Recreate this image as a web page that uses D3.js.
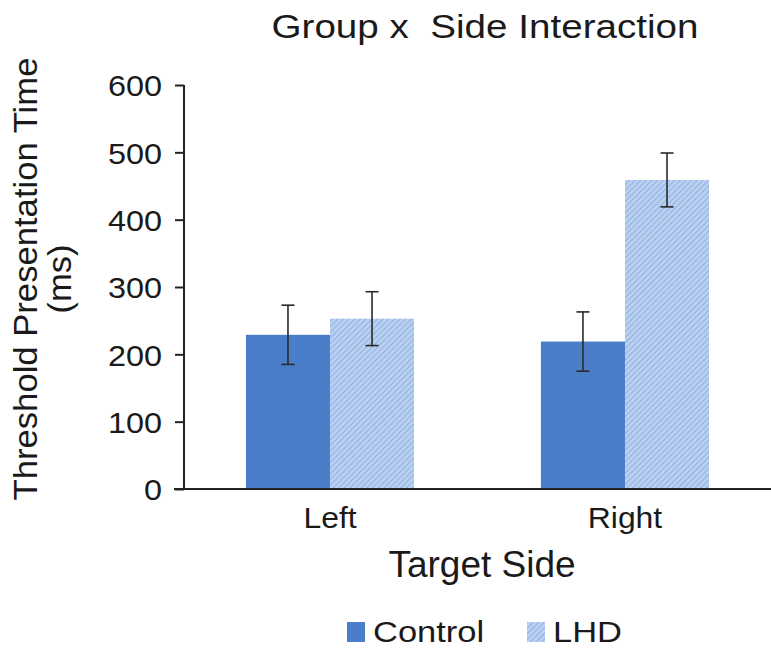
<!DOCTYPE html>
<html>
<head>
<meta charset="utf-8">
<script src="https://cdn.jsdelivr.net/npm/d3@7"></script>
<style>
  html, body { margin: 0; padding: 0; background: #fff; }
  svg { display: block; font-family: Arial, "Liberation Sans", Helvetica, sans-serif; }
  text { fill: #1a1a1a; }
</style>
</head>
<body>
<svg id="chart" width="771" height="650"></svg>
<script>
// Threshold presentation time by target side, per group
const categories = ["Left", "Right"];
const groups = ["Control", "LHD"];
const controlMeans = [229, 219];
const controlErrors = [44, 44];
const lhdMeans = [253, 459];
const lhdErrors = [40, 40];
const yTicks = [0, 100, 200, 300, 400, 500, 600];

const means = { Control: controlMeans, LHD: lhdMeans };
const errors = { Control: controlErrors, LHD: lhdErrors };
const rows = [];
categories.forEach((c, i) => groups.forEach(g => rows.push({ cat: c, group: g, mean: means[g][i], err: errors[g][i] })));

const svg = d3.select("#chart");
const plotLeft = 184, plotRight = 771, plotTop = 85, plotBottom = 489;

const x = d3.scaleBand().domain(categories).range([plotLeft, plotRight]).paddingInner(0.43).paddingOuter(0.21);
const xg = d3.scaleBand().domain(groups).range([0, x.bandwidth()]);
const y = d3.scaleLinear().domain([0, 600]).range([plotBottom, plotTop]);

// hatch pattern for the LHD bars
const defs = svg.append("defs");
const pat = defs.append("pattern").attr("id", "hatch").attr("patternUnits", "userSpaceOnUse")
  .attr("width", 4).attr("height", 4).attr("patternTransform", "rotate(45)");
pat.append("rect").attr("width", 4).attr("height", 4).attr("fill", "#b9d0f1");
pat.append("line").attr("x1", 0).attr("y1", 0).attr("x2", 0).attr("y2", 4)
  .attr("stroke", "#86a9de").attr("stroke-width", 1.6);

const fillFor = g => g === "Control" ? "#4a7ec8" : "url(#hatch)";

// bars
svg.append("g").selectAll("rect").data(rows).join("rect")
  .attr("x", d => x(d.cat) + xg(d.group))
  .attr("width", xg.bandwidth())
  .attr("y", d => y(d.mean))
  .attr("height", d => y(0) - y(d.mean))
  .attr("fill", d => fillFor(d.group));

// error bars
const eb = svg.append("g").attr("stroke", "#2a2a2a").attr("stroke-width", 1.6);
rows.forEach(d => {
  const cx = x(d.cat) + xg(d.group) + xg.bandwidth() / 2;
  eb.append("line").attr("x1", cx).attr("x2", cx).attr("y1", y(d.mean + d.err)).attr("y2", y(d.mean - d.err));
  eb.append("line").attr("x1", cx - 6.5).attr("x2", cx + 6.5).attr("y1", y(d.mean + d.err)).attr("y2", y(d.mean + d.err));
  eb.append("line").attr("x1", cx - 6.5).attr("x2", cx + 6.5).attr("y1", y(d.mean - d.err)).attr("y2", y(d.mean - d.err));
});

// y axis
const yAxis = svg.append("g").attr("transform", `translate(${plotLeft},0)`)
  .call(d3.axisLeft(y).tickValues(yTicks).tickSize(9).tickPadding(12).tickFormat(d3.format("d")));
yAxis.select(".domain").attr("stroke", "#222").attr("stroke-width", 2).attr("d", `M0,${plotTop}V${plotBottom}`);
yAxis.selectAll(".tick line").attr("stroke", "#222").attr("stroke-width", 2);
yAxis.selectAll(".tick text")
  .attr("font-size", 30).attr("fill", "#1a1a1a").attr("dy", "0.36em")
  .attr("transform", "scale(1.08,1)")
  .attr("x", -22 / 1.08);

// x axis baseline
svg.append("line").attr("x1", 174).attr("x2", plotRight).attr("y1", plotBottom).attr("y2", plotBottom)
  .attr("stroke", "#222").attr("stroke-width", 2);

// category labels
svg.append("g").selectAll("text").data(categories).join("text")
  .attr("text-anchor", "middle").attr("font-size", 29)
  .attr("transform", d => `translate(${x(d) + x.bandwidth() / 2},528) scale(1.1,1)`)
  .text(d => d);

// titles
svg.append("text").attr("text-anchor", "middle").attr("font-size", 33)
  .style("white-space", "pre")
  .attr("transform", "translate(485,38) scale(1.17,1)")
  .text("Group x  Side Interaction");

svg.append("text").attr("text-anchor", "middle").attr("font-size", 37)
  .attr("transform", "translate(482,577)")
  .text("Target Side");

const yl = svg.append("text").attr("text-anchor", "middle").attr("font-size", 33)
  .attr("transform", "translate(37,279) rotate(-90) scale(1.05,1)");
yl.append("tspan").attr("x", 0).attr("dy", 0).text("Threshold Presentation Time");
yl.append("tspan").attr("x", 0).attr("dy", 34).text("(ms)");

// legend
const legendX = [347, 527];
const lg = svg.append("g").selectAll("g").data(groups).join("g")
  .attr("transform", (d, i) => `translate(${legendX[i]},622)`);
lg.append("rect").attr("width", 18).attr("height", 20).attr("fill", d => fillFor(d));
lg.append("text").attr("font-size", 30).attr("transform", "translate(26,20) scale(1.15,1)").text(d => d);
</script>
</body>
</html>
